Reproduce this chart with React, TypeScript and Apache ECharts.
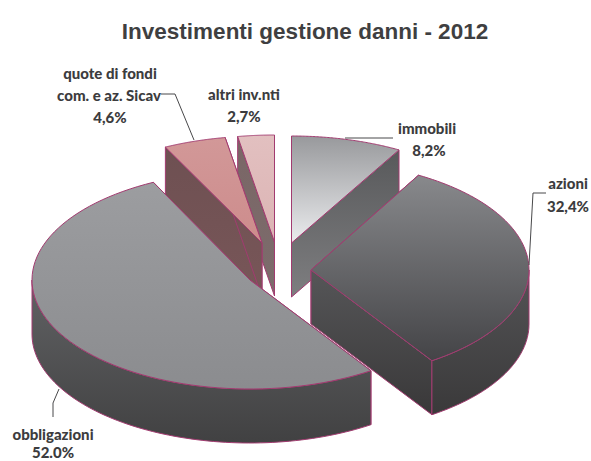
import React, { useEffect, useRef } from "react";
import * as echarts from "echarts";

const titleText = "Investimenti gestione danni - 2012";
const categories = ["immobili", "azioni", "obbligazioni", "quote di fondi com. e az. Sicav", "altri inv.nti"];
const values = [8.2, 32.4, 52.0, 4.6, 2.7];

// exploded-slice layout (separate from the data)
const apexX = [291.5, 311, 250, 262, 274.5];
const apexY = [243, 270, 280, 243, 242];
const radiusY = [107, 109, 109, 107, 107];
const RX = 218;
const DEPTH = 54;
const STROKE = "#a23b70";
const drawOrder = [0, 4, 3, 1, 2];

const topFill = [
  ["#98999c", "#ebecee"],
  ["#88898c", "#444447"],
  ["#9c9da0", "#8b8c8f"],
  ["#d29898", "#cd8c8c"],
  ["#e2c0c0", "#dcb4b4"],
];
const wallFill = [
  ["#58595b", "#7e7e80"],
  ["#565658", "#393839"],
  ["#5a5b5d", "#404041"],
  ["#6e5052", "#785658"],
  ["#7a6666", "#7c6c6c"],
];
const sideFill = [
  ["#58595b", "#58595b"],
  ["#545456", "#3a393a"],
  ["#616264", "#414142"],
  ["#6e5052", "#6e5052"],
  ["#7a6666", "#7a6666"],
];

const total = values.reduce((a, b) => a + b, 0);
const startFrac = values.map((_, i) => values.slice(0, i).reduce((a, b) => a + b, 0) / total);

const grad = (c: string[]) =>
  new echarts.graphic.LinearGradient(0, 0, 0, 1, [
    { offset: 0, color: c[0] },
    { offset: 1, color: c[1] },
  ]);

function renderItem(_params: any, api: any) {
  const idx = api.value(1);
  const v = api.value(0);
  const t0 = startFrac[idx] * Math.PI * 2;
  const t1 = t0 + (v / total) * Math.PI * 2;
  const ax = apexX[idx];
  const ay = apexY[idx];
  const ry = radiusY[idx];
  const pt = (t: number, d = 0) => [ax + RX * Math.sin(t), ay - ry * Math.cos(t) + d];
  const arc: number[][] = [];
  const steps = 80;
  for (let k = 0; k <= steps; k++) arc.push(pt(t0 + ((t1 - t0) * k) / steps));

  const poly = (points: number[][], fill: any) => ({
    type: "polygon",
    shape: { points },
    style: { fill, stroke: STROKE, lineWidth: 1, lineJoin: "round" },
    silent: true,
  });
  const children: any[] = [];
  // cut walls
  const wall = (t: number) => [
    [ax, ay],
    pt(t),
    pt(t, DEPTH),
    [ax, ay + DEPTH],
  ];
  children.push(poly(wall(t0), grad(wallFill[idx])));
  children.push(poly(wall(t1), grad(wallFill[idx])));
  // outer rim: only the part that faces the viewer
  const a = Math.max(t0, Math.PI / 2);
  const b = Math.min(t1, (Math.PI * 3) / 2);
  if (b > a) {
    const upper: number[][] = [];
    const lower: number[][] = [];
    for (let k = 0; k <= steps; k++) {
      const t = a + ((b - a) * k) / steps;
      upper.push(pt(t));
      lower.unshift(pt(t, DEPTH));
    }
    children.push(poly(upper.concat(lower), grad(sideFill[idx])));
  }
  // top face
  children.push(poly([[ax, ay], ...arc], grad(topFill[idx])));
  return { type: "group", children };
}

const labelStyle = {
  fontFamily: "Lato, 'Open Sans', sans-serif",
  fontWeight: 900,
  fontSize: 15,
  fill: "#3c3c3e",
  textAlign: "center",
  textVerticalAlign: "middle",
};

const labels: [string, number, number][] = [
  ["quote di fondi", 110, 73],
  ["com. e az. Sicav", 109, 95],
  ["4,6%", 110, 117],
  ["altri inv.nti", 244, 94],
  ["2,7%", 244, 116],
  ["immobili", 427, 128],
  ["8,2%", 429, 150],
  ["azioni", 568, 183],
  ["32,4%", 568, 206],
  ["obbligazioni", 53, 434],
  ["52.0%", 53, 452],
];

const leaders: number[][][] = [
  [[161, 94], [175, 94], [194, 140]],
  [[546, 193], [533, 193], [529, 265]],
  [[345, 138], [393, 138]],
  [[59, 389], [53, 403], [53, 417]],
];

export default function App() {
  const ref = useRef<HTMLDivElement>(null);
  useEffect(() => {
    const chart = echarts.init(ref.current!, undefined, { renderer: "svg" });
    chart.setOption({
      animation: false,
      backgroundColor: "#ffffff",
      title: {
        text: titleText,
        left: 300,
        top: 15,
        textAlign: "center",
        textStyle: { fontFamily: "'Liberation Sans', Arial, sans-serif", fontWeight: "bold", fontSize: 22.5, color: "#3f3f41" },
      },
      series: [
        {
          type: "custom",
          coordinateSystem: "none",
          silent: true,
          renderItem,
          dimensions: ["value", "slice"],
          data: drawOrder.map((i) => ({ name: categories[i], value: [values[i], i] })),
          z: 1,
        },
      ],
      graphic: [
        ...leaders.map((points) => ({
          type: "polyline",
          z: 5,
          silent: true,
          shape: { points },
          style: { stroke: "#48484a", lineWidth: 1, fill: "none" },
        })),
        ...labels.map(([text, x, y]) => ({
          type: "text",
          z: 6,
          silent: true,
          x,
          y,
          style: { ...labelStyle, text },
        })),
      ],
    });
    return () => chart.dispose();
  }, []);
  return <div ref={ref} style={{ position: "absolute", left: 0, top: 0, width: 591, height: 461 }} />;
}
